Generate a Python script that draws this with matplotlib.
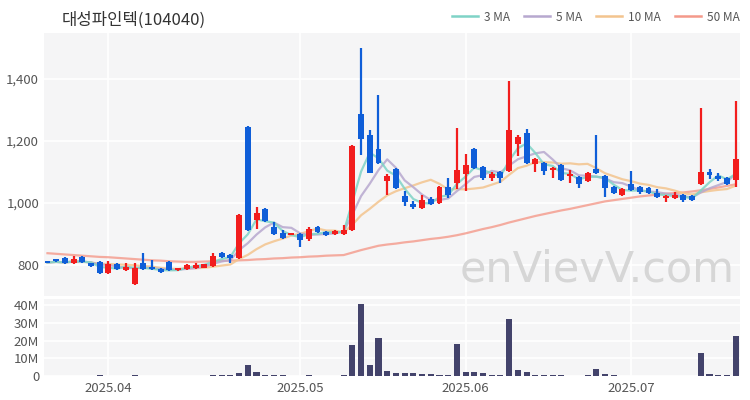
import matplotlib
matplotlib.use("Agg")
import matplotlib.pyplot as plt
import numpy as np
import pandas as pd
from matplotlib.lines import Line2D

plt.rcParams['font.family'] = ['Noto Sans CJK KR', 'DejaVu Sans']

title = "대성파인텍(104040)"

opens = [812, 818, 823, 805, 826, 806, 810, 774, 803, 784,
         739, 806, 794, 787, 810, 784, 787, 790, 791, 797,
         839, 832, 823, 1245, 945, 981, 923, 903, 898, 900,
         884, 923, 906, 900, 900, 913, 1287, 1219, 1174, 1071,
         1110, 1023, 997, 984, 1013, 1000, 1052, 1065, 1094, 1174,
         1116, 1081, 1100, 1103, 1190, 1226, 1126, 1129, 1106, 1123,
         1087, 1084, 1071, 1110, 1087, 1052, 1026, 1061, 1052, 1048,
         1032, 1016, 1016, 1026, 1023, 1061, 1100, 1087, 1081, 1074]
highs = [814, 820, 826, 828, 828, 808, 812, 813, 806, 806,
         806, 839, 816, 789, 812, 791, 803, 806, 804, 839,
         841, 834, 965, 1247, 987, 983, 940, 912, 904, 902,
         923, 925, 908, 912, 930, 1188, 1500, 1235, 1348, 1094,
         1112, 1039, 1006, 1026, 1019, 1055, 1081, 1242, 1158, 1178,
         1118, 1100, 1102, 1394, 1219, 1239, 1145, 1131, 1116, 1126,
         1106, 1087, 1100, 1219, 1090, 1055, 1048, 1103, 1055, 1050,
         1045, 1026, 1035, 1029, 1026, 1306, 1110, 1097, 1084, 1329]
lows = [806, 810, 803, 803, 808, 795, 772, 772, 785, 782,
        737, 785, 785, 775, 782, 782, 785, 788, 789, 795,
        824, 806, 820, 911, 916, 940, 898, 885, 896, 858,
        877, 904, 895, 898, 898, 911, 1155, 1095, 1125, 1025,
        1046, 990, 980, 980, 995, 998, 1016, 1045, 1039, 1110,
        1074, 1070, 1064, 1100, 1150, 1126, 1100, 1090, 1081, 1071,
        1065, 1049, 1068, 1094, 1019, 1029, 1023, 1039, 1029, 1030,
        1016, 1003, 1013, 1003, 1007, 1058, 1077, 1071, 1058, 1052]
closes = [808, 812, 805, 818, 810, 797, 774, 803, 787, 794,
          790, 787, 787, 777, 784, 789, 800, 800, 802, 829,
          826, 823, 961, 913, 968, 942, 900, 887, 902, 880,
          916, 906, 897, 910, 914, 1184, 1206, 1097, 1129, 1087,
          1048, 1003, 987, 1010, 997, 1052, 1026, 1106, 1123, 1113,
          1081, 1094, 1081, 1235, 1213, 1129, 1142, 1103, 1113, 1074,
          1094, 1061, 1097, 1097, 1048, 1032, 1045, 1042, 1035, 1032,
          1019, 1023, 1026, 1010, 1010, 1100, 1090, 1077, 1061, 1142]
volumes_m = [0.2, 0.2, 0.2, 0.2, 0.2, 0.1, 0.3, 0.2, 0.1, 0.1,
             0.3, 0.2, 0.1, 0.1, 0.1, 0.1, 0.1, 0.1, 0.1, 0.3,
             0.4, 0.6, 1.5, 6.2, 2.0, 0.5, 0.4, 0.3, 0.2, 0.2,
             0.3, 0.2, 0.2, 0.2, 0.4, 17.5, 40.5, 6.2, 21.2, 3.0,
             1.9, 1.9, 1.5, 1.3, 1.0, 0.4, 0.4, 17.8, 2.3, 2.3,
             1.5, 0.5, 0.4, 32.3, 3.4, 2.0, 0.8, 0.8, 0.3, 0.3,
             0.2, 0.2, 0.3, 4.0, 1.0, 0.3, 0.2, 0.2, 0.2, 0.2,
             0.2, 0.2, 0.2, 0.2, 0.2, 13.0, 1.0, 0.3, 0.3, 22.5]
ma50 = [838, 836, 834, 832, 830, 828, 826, 825, 823, 821,
        819, 817, 815, 814, 812, 811, 810, 810, 811, 812,
        813, 814, 815, 816, 818, 819, 821, 822, 824, 825,
        827, 828, 830, 831, 832, 840, 848, 855, 862, 866,
        869, 873, 876, 880, 884, 887, 891, 896, 902, 909,
        916, 922, 929, 937, 944, 951, 958, 964, 970, 976,
        981, 987, 993, 999, 1005, 1009, 1013, 1017, 1021, 1024,
        1027, 1030, 1032, 1034, 1037, 1041, 1045, 1050, 1055, 1060]

tick_pos = [7, 29, 48, 67]
tick_labels = ["2025.04", "2025.05", "2025.06", "2025.07"]

ma_colors = {"3 MA": "#7fd3c6", "5 MA": "#b7a8cf", "10 MA": "#f3c48e", "50 MA": "#f4998a"}
up_c = "#f21d1d"
dn_c = "#0f5ed8"
bg = "#f5f5f6"

x = np.arange(len(closes))
o = np.array(opens, float); c = np.array(closes, float)
h = np.array(highs, float); l = np.array(lows, float)
s = pd.Series(closes, dtype=float)
ma3 = s.rolling(3, min_periods=1).mean()
ma5 = s.rolling(5, min_periods=1).mean()
ma10 = s.rolling(10, min_periods=1).mean()

fig = plt.figure(figsize=(7.5, 4.0), dpi=100)
ax = fig.add_axes([44/750, 1-296/400, 696/750, 263/400])
axv = fig.add_axes([44/750, 1-376/400, 696/750, 77/400], sharex=ax)

for a in (ax, axv):
    a.set_facecolor(bg)
    for sp in a.spines.values():
        sp.set_visible(False)
    a.grid(True, color="white", linewidth=1.2)
    a.set_axisbelow(True)
    a.tick_params(length=0, labelsize=9.5, colors="#555555")

fig.text(597/750, 1-270/400, "enVievV.com", fontsize=31, color="#d6d6d6",
         ha="center", va="center", family="DejaVu Sans", zorder=0.5)

# MA lines
ax.plot(x, ma50, color=ma_colors["50 MA"], lw=1.6, alpha=0.8, zorder=2)
ax.plot(x, ma10, color=ma_colors["10 MA"], lw=1.6, alpha=0.85, zorder=2)
ax.plot(x, ma5, color=ma_colors["5 MA"], lw=1.6, alpha=0.85, zorder=2)
ax.plot(x, ma3, color=ma_colors["3 MA"], lw=1.6, alpha=0.85, zorder=2)

up = c >= o
cols = np.where(up, up_c, dn_c)
ax.vlines(x, l, h, colors=cols, lw=1.6, zorder=3)
body_b = np.minimum(o, c)
body_h = np.maximum(np.abs(c - o), 3)
ax.bar(x, body_h, bottom=body_b, width=0.68, color=cols, zorder=4, linewidth=0)

ax.set_ylim(700, 1548)
ax.set_yticks([800, 1000, 1200, 1400])
ax.set_yticklabels(["800", "1,000", "1,200", "1,400"])
ax.set_xlim(-0.4, 79.5)
ax.set_xticks(tick_pos)
plt.setp(ax.get_xticklabels(), visible=False)

axv.bar(x, volumes_m, width=0.7, color="#43436b", zorder=3, linewidth=0)
axv.set_ylim(0, 43.4)
axv.set_yticks([0, 10, 20, 30, 40])
axv.set_yticklabels(["0", "10M", "20M", "30M", "40M"])
axv.set_xticks(tick_pos)
axv.set_xticklabels(tick_labels)
axv.tick_params(axis="x", pad=4)

fig.text(62/750, 1-20/400, title, fontsize=12, color="#333333", ha="left", va="center")

handles = [Line2D([0], [0], color=col, lw=1.8) for col in ma_colors.values()]
fig.legend(handles, list(ma_colors.keys()), loc="upper right", bbox_to_anchor=(1.0, 1.0),
           ncol=4, frameon=False, fontsize=8.5, handlelength=2.2, columnspacing=1.2,
           handletextpad=0.5, labelcolor="#555555")

fig.savefig("out.png", dpi=100, facecolor="white")
